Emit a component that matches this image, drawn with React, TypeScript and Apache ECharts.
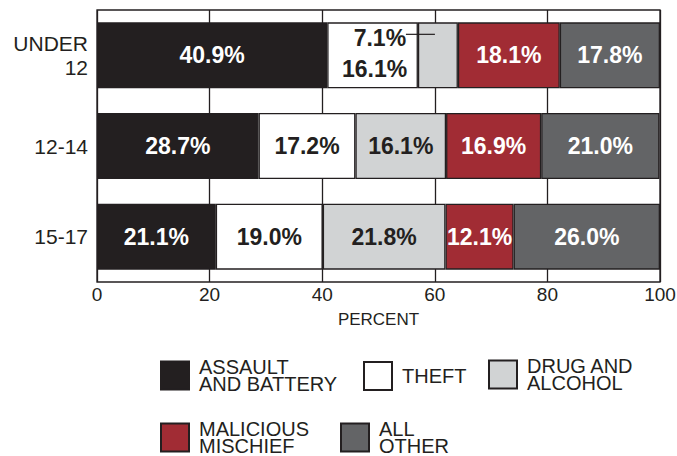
import React, { useEffect, useRef } from "react";
import * as echarts from "echarts";

const categories = ["UNDER\n12", "12-14", "15-17"];
const seriesNames = ["ASSAULT AND BATTERY", "THEFT", "DRUG AND ALCOHOL", "MALICIOUS MISCHIEF", "ALL OTHER"];
const legendLabels = ["ASSAULT\nAND BATTERY", "THEFT", "DRUG AND\nALCOHOL", "MALICIOUS\nMISCHIEF", "ALL\nOTHER"];
const assault = [40.9, 28.7, 21.1];
const theft = [16.1, 17.2, 19.0];
const drug = [7.1, 16.1, 21.8];
const mischief = [18.1, 16.9, 12.1];
const other = [17.8, 21.0, 26.0];
const xTicks = [0, 20, 40, 60, 80, 100];

const colors = ["#231f20", "#ffffff", "#d1d3d4", "#a12c34", "#636466"];
const labelColors = ["#ffffff", "#231f20", "#231f20", "#ffffff", "#ffffff"];

const SANS = '"Liberation Sans", Arial, Helvetica, sans-serif';

export default function App() {
  const ref = useRef<HTMLDivElement>(null);
  useEffect(() => {
    if (!ref.current) return;
    const chart = echarts.init(ref.current, null, { renderer: "svg" });
    const allData = [assault, theft, drug, mischief, other];
    const series = allData.map((arr, si) => ({
      name: seriesNames[si],
      type: "bar",
      stack: "total",
      barWidth: 66,
      itemStyle: { color: colors[si], borderColor: "#231f20", borderWidth: 1.3 },
      label: {
        show: true,
        position: "inside",
        fontSize: 23,
        fontWeight: "bold",
        fontFamily: SANS,
        color: labelColors[si],
        formatter: (p: any) => p.value.toFixed(1) + "%",
      },
      data: arr.map((v, i) => {
        const item: any = { value: v };
        if (si === 1 && i === 0) {
          item.label = { offset: [2, 14] };
        }
        if (si === 2 && i === 0) {
          item.label = { offset: [-58, -17] };
        }
        return item;
      }),
    }));

    const legendPos = [
      { left: 160, top: 357 },
      { left: 363, top: 361 },
      { left: 488, top: 356 },
      { left: 160, top: 419 },
      { left: 340, top: 419 },
    ];
    const legends = seriesNames.map((n, i) => ({
      data: [n],
      left: legendPos[i].left,
      top: legendPos[i].top,
      padding: 0,
      itemWidth: 28,
      itemHeight: 28,
      icon: "rect",
      selectedMode: false,
      formatter: () => legendLabels[i],
      textStyle: {
        fontSize: 20,
        lineHeight: 17,
        color: "#231f20",
        fontFamily: SANS,
        padding: [0, 0, 0, 5],
      },
    }));

    chart.setOption({
      animation: false,
      legend: legends,
      grid: {
        left: 97,
        right: 17,
        top: 10,
        bottom: 174,
        show: true,
        borderColor: "#231f20",
        borderWidth: 1.3,
        outerBoundsMode: "none",
        containLabel: false,
      },
      xAxis: {
        type: "value",
        min: xTicks[0],
        max: xTicks[xTicks.length - 1],
        interval: 20,
        name: "PERCENT",
        nameLocation: "middle",
        nameGap: 29,
        nameTextStyle: { fontSize: 17, color: "#231f20", fontFamily: SANS },
        axisLine: { show: false },
        axisTick: { show: false },
        axisLabel: { fontSize: 19, color: "#231f20", fontFamily: SANS, margin: 3 },
        splitLine: { show: true, lineStyle: { color: "#231f20", width: 1.3 } },
      },
      yAxis: {
        type: "category",
        inverse: true,
        data: categories,
        axisLine: { show: false },
        axisTick: { show: false },
        axisLabel: { fontSize: 21, lineHeight: 24, color: "#231f20", fontFamily: SANS, margin: 9, align: "right" },
        splitLine: { show: false },
      },
      series,
    });

    const p = chart.convertToPixel({ xAxisIndex: 0, yAxisIndex: 0 }, [assault[0] + theft[0], 0]) as number[];
    chart.setOption({
      graphic: [
        {
          type: "line",
          shape: { x1: p[0] - 12, y1: p[1] - 21, x2: p[0] + 17, y2: p[1] - 21 },
          style: { stroke: "#231f20", lineWidth: 1.2 },
          z: 100,
        },
      ],
    });

    return () => chart.dispose();
  }, []);
  return <div ref={ref} style={{ width: 677, height: 456, position: "absolute", left: 0, top: 0 }} />;
}
